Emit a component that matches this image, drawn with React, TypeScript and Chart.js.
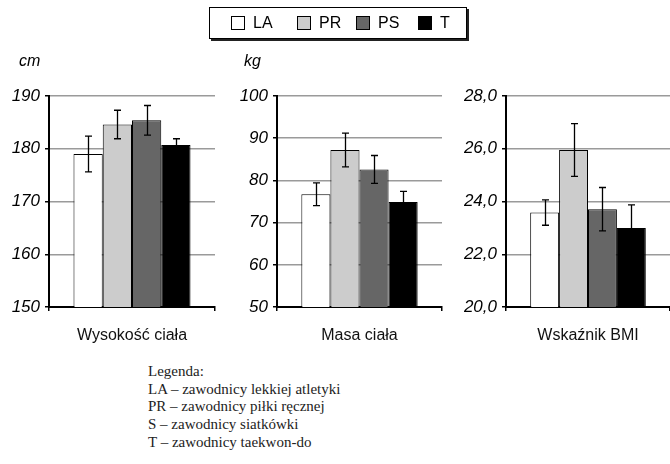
import React, { useEffect, useRef } from "react";
import { Chart, registerables } from "chart.js";
Chart.register(...registerables);

// ---- data ----
const groups = ["LA", "PR", "PS", "T"];
const groupColors = ["#ffffff", "#cccccc", "#666666", "#000000"];

const heightMeans = [179.0, 184.6, 185.4, 180.7];
const heightSD = [3.4, 2.7, 2.8, 1.2];
const massMeans = [76.7, 87.2, 82.6, 74.9];
const massSD = [2.7, 4.0, 3.3, 2.5];
const bmiMeans = [23.58, 25.95, 23.71, 23.0];
const bmiSD = [0.48, 1.0, 0.82, 0.87];

const panelTitles = ["Wysokość ciała", "Masa ciała", "Wskaźnik BMI"];
const unitLabels = ["cm", "kg", ""];
const yMins = [150, 50, 20];
const yMaxs = [190, 100, 28];
const ySteps = [10, 10, 2];
const yDecimals = [0, 0, 1];

const legendNotes = [
  "Legenda:",
  "LA – zawodnicy lekkiej atletyki",
  "PR – zawodnicy piłki ręcznej",
  "S – zawodnicy siatkówki",
  "T – zawodnicy taekwon-do",
];

const SANS = "'Liberation Sans Narrow', 'Liberation Sans', sans-serif";

const errorBarPlugin = {
  id: "errorBars",
  afterDatasetsDraw(chart: any, _args: any, opts: any) {
    const ctx = chart.ctx;
    const ys = chart.scales.y;
    const sd: number[] = opts.sd || [];
    ctx.save();
    ctx.strokeStyle = "#000";
    ctx.lineWidth = 1.3;
    chart.data.datasets.forEach((ds: any, i: number) => {
      const meta = chart.getDatasetMeta(i);
      meta.data.forEach((bar: any, j: number) => {
        const v = ds.data[j];
        const e = sd[i];
        const x = Math.round(bar.x) + 0.5;
        const t = ys.getPixelForValue(v + e);
        const b = ys.getPixelForValue(v - e);
        ctx.beginPath();
        ctx.moveTo(x, t);
        ctx.lineTo(x, b);
        ctx.moveTo(x - 3.5, t);
        ctx.lineTo(x + 3.5, t);
        ctx.moveTo(x - 3.5, b);
        ctx.lineTo(x + 3.5, b);
        ctx.stroke();
      });
    });
    ctx.restore();
  },
};

type PanelProps = {
  idx: number;
  means: number[];
  sds: number[];
  left: number;
  width: number;
  padLeft: number;
  padRight: number;
};

const CANVAS_H = 360;

function Panel({ idx, means, sds, left, width, padLeft, padRight }: PanelProps) {
  const ref = useRef<HTMLCanvasElement | null>(null);
  useEffect(() => {
    if (!ref.current) return;
    const chart = new Chart(ref.current, {
      type: "bar",
      data: {
        labels: [panelTitles[idx]],
        datasets: groups.map((g, i) => ({
          label: g,
          data: [means[i]],
          backgroundColor: groupColors[i],
          borderColor: "#000",
          borderWidth: 1,
          categoryPercentage: 0.705,
          barPercentage: 1.0,
        })),
      },
      options: {
        responsive: false,
        animation: false,
        events: [],
        layout: { padding: { top: 96, bottom: 13, left: padLeft, right: padRight } },
        plugins: {
          legend: { display: false },
          tooltip: { enabled: false },
          errorBars: { sd: sds },
        } as any,
        scales: {
          x: {
            afterFit: (s: any) => {
              s.height = 40;
            },
            grid: {
              drawOnChartArea: false,
              drawTicks: true,
              tickLength: 4,
              tickColor: "#000",
              lineWidth: 1.5,
            },
            border: { color: "#000", width: 2 },
            ticks: {
              color: "#111",
              padding: 15,
              font: { family: SANS, size: 16 },
            },
          },
          y: {
            min: yMins[idx],
            max: yMaxs[idx],
            afterFit: (s: any) => {
              s.width = 42;
            },
            grid: {
              color: "#9a9a9a",
              lineWidth: 1.5,
              tickColor: "#000",
              tickLength: 4,
            },
            border: { color: "#000", width: 2 },
            ticks: {
              stepSize: ySteps[idx],
              color: "#000",
              padding: 5,
              font: { family: SANS, size: 17, style: "italic" },
              callback: (v: any) => Number(v).toFixed(yDecimals[idx]).replace(".", ","),
            },
          },
        },
      },
      plugins: [errorBarPlugin],
    });
    return () => chart.destroy();
  }, []);
  return (
    <canvas
      ref={ref}
      width={width}
      height={CANVAS_H}
      style={{ position: "absolute", left, top: 0, width, height: CANVAS_H }}
    />
  );
}

const legendItemLeft = [21, 87, 146, 208];

export default function App() {
  return (
    <div
      style={{
        position: "absolute",
        left: 0,
        top: 0,
        width: 670,
        height: 464,
        background: "#fff",
        overflow: "hidden",
      }}
    >
      <Panel idx={0} means={heightMeans} sds={heightSD} left={0} width={225} padLeft={7} padRight={10} />
      <Panel idx={1} means={massMeans} sds={massSD} left={225} width={220} padLeft={10} padRight={3} />
      <Panel idx={2} means={bmiMeans} sds={bmiSD} left={445} width={225} padLeft={19} padRight={0} />

      {/* unit labels */}
      {unitLabels.map((u, i) =>
        u ? (
          <div
            key={u}
            style={{
              position: "absolute",
              left: i === 0 ? 19 : 244,
              top: 52,
              font: `italic 16px ${SANS}`,
              color: "#000",
            }}
          >
            {u}
          </div>
        ) : null
      )}

      {/* top legend */}
      <div
        style={{
          position: "absolute",
          left: 209,
          top: 7,
          width: 258,
          height: 32,
          border: "1px solid #000",
          boxShadow: "2px 2px 0 #222",
          boxSizing: "border-box",
          font: `16px ${SANS}`,
          color: "#000",
        }}
      >
        {groups.map((g, i) => (
          <div
            key={g}
            style={{
              position: "absolute",
              left: legendItemLeft[i],
              top: 0,
              height: 30,
              display: "flex",
              alignItems: "center",
            }}
          >
            <span
              style={{
                display: "inline-block",
                width: 12,
                height: 12,
                border: "1px solid #000",
                background: groupColors[i],
                marginRight: 8,
              }}
            />
            <span>{g}</span>
          </div>
        ))}
      </div>

      {/* bottom notes */}
      <div
        style={{
          position: "absolute",
          left: 148,
          top: 363,
          font: "15px 'Liberation Serif', 'Times New Roman', serif",
          lineHeight: "17.7px",
          color: "#222",
        }}
      >
        {legendNotes.map((t) => (
          <div key={t}>{t}</div>
        ))}
      </div>
    </div>
  );
}
